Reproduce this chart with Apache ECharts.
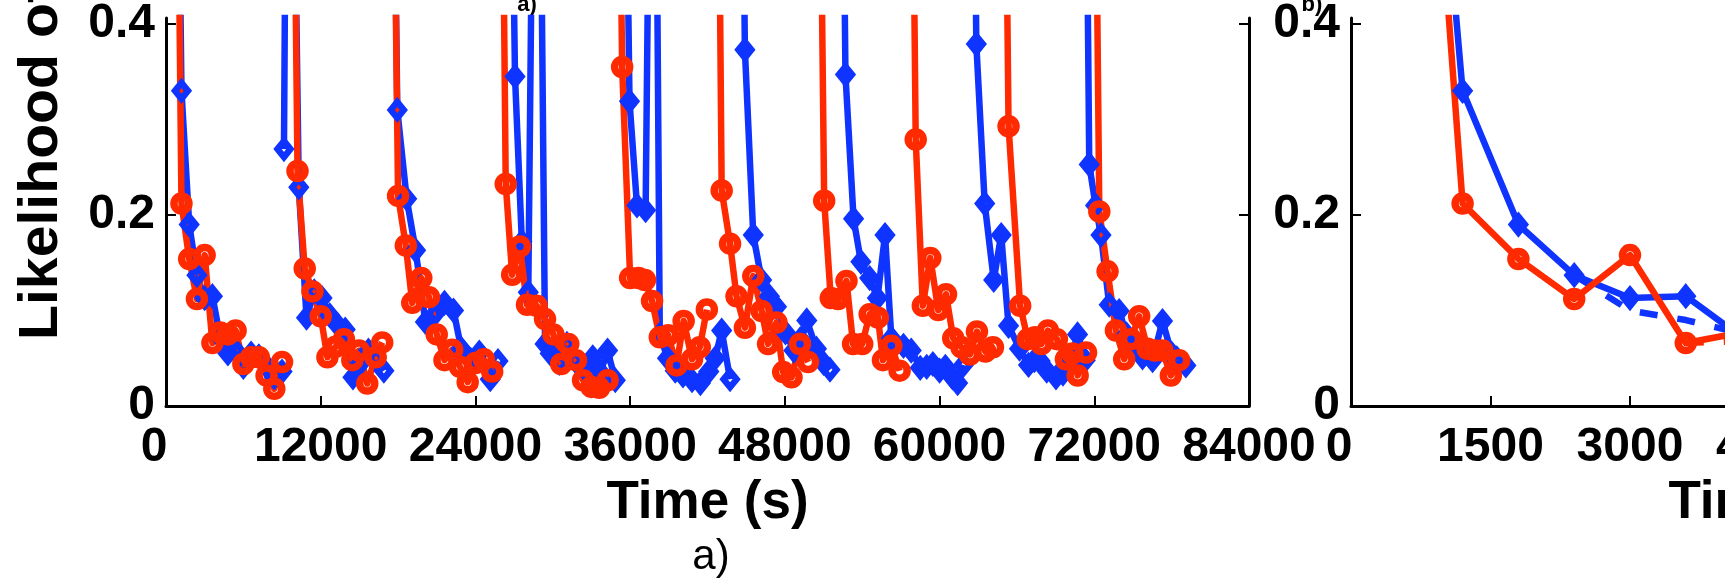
<!DOCTYPE html>
<html>
<head>
<meta charset="utf-8">
<script src="https://cdn.jsdelivr.net/npm/echarts@6/dist/echarts.min.js"></script>
<style>
  html, body { margin: 0; padding: 0; background: #ffffff; overflow: hidden; width: 1735px; height: 582px; }
  #chart { width: 2300px; height: 582px; }
</style>
</head>
<body>
<div id="chart"></div>
<script>
// ---------- data: [time (s), likelihood] ----------
const blueRun1 = [[600,1.0],[1200,0.330],[1800,0.190],[2400,0.137],[3000,0.113],[3600,0.115],[4200,0.072],[4800,0.055],[5400,0.058],[6000,0.041],[6600,0.055],[7200,0.052],[7800,0.042],[8400,0.030],[9000,0.036]];
const blueRun2 = [[9150,0.269],[9500,1.0],[10300,0.229],[10900,0.0925],[11500,0.120],[12100,0.113],[12700,0.095],[13300,0.085],[13900,0.080],[14500,0.030],[15100,0.045],[15700,0.058],[16300,0.050],[16900,0.037]];
const blueRun3 = [[17300,1.0],[17940,0.310],[18670,0.217],[19360,0.163],[20120,0.088],[20900,0.097],[21600,0.108],[22300,0.100],[22900,0.060],[23650,0.048],[24300,0.056],[25150,0.028],[25750,0.047]];
const blueRun4 = [[26400,1.0],[27070,0.345],[27600,0.172],[28100,0.119],[28750,1.0],[29400,0.065],[29800,0.055],[30500,0.045],[31100,0.065],[31700,0.048],[32400,0.040],[33100,0.051],[33700,0.035],[34250,0.058],[34850,0.027]];
const blueRun5 = [[35300,1.0],[35950,0.319],[36530,0.210],[37200,0.205],[37800,1.0],[38300,0.075],[38900,0.050],[39500,0.037],[40100,0.032],[40800,0.027],[41450,0.024],[42100,0.036],[42600,0.050],[43100,0.079],[43750,0.028]];
const blueRun6 = [[44400,1.0],[44900,0.373],[45550,0.179],[46200,0.132],[46800,0.115],[47350,0.104],[48050,0.077],[48700,0.058],[49200,0.070],[49700,0.0896],[50450,0.060],[51000,0.045],[51500,0.038]];
const blueRun7 = [[52200,1.0],[52700,0.347],[53330,0.196],[53900,0.151],[54580,0.134],[55180,0.113],[55770,0.179],[56260,0.071],[57200,0.063],[57800,0.058],[58500,0.040],[59000,0.041],[59480,0.044],[60000,0.037],[60450,0.041],[61000,0.030],[61400,0.024],[61850,0.043]];
const blueRun8 = [[62400,1.0],[62850,0.379],[63500,0.212],[64200,0.132],[64780,0.179],[65350,0.084],[66200,0.060],[66900,0.043],[67350,0.048],[67800,0.047],[68310,0.037],[69030,0.030],[69570,0.034],[70200,0.048],[70700,0.075],[71300,0.048]];
const blueRun9 = [[71100,1.0],[71610,0.253],[72100,0.210],[72520,0.179],[73160,0.106],[73930,0.0995],[74500,0.075],[75100,0.060],[75740,0.051],[76520,0.048],[77290,0.089],[78000,0.055],[78400,0.050],[79100,0.0425]];

const redRun1 = [[600,1.0],[1200,0.212],[1800,0.154],[2400,0.112],[3000,0.158],[3600,0.066],[4200,0.077],[4800,0.075],[5400,0.079],[6000,0.044],[6600,0.051],[7200,0.051],[7800,0.032],[8400,0.018],[9000,0.046]];
const redRun2 = [[9600,1.0],[10200,0.246],[10760,0.144],[11360,0.120],[12000,0.094],[12520,0.051],[13150,0.062],[13800,0.070],[14450,0.048],[14970,0.058],[15610,0.0235],[16260,0.051],[16770,0.0666]];
const redRun3 = [[17300,1.0],[18000,0.220],[18600,0.168],[19100,0.108],[19800,0.134],[20400,0.114],[21000,0.075],[21600,0.048],[22200,0.059],[22800,0.041],[23400,0.025],[24000,0.045],[24650,0.049],[25300,0.036]];
const redRun4 = [[25800,1.0],[26350,0.2325],[26850,0.1375],[27450,0.167],[28000,0.106],[28750,0.105],[29400,0.091],[30050,0.075],[30650,0.044],[31200,0.065],[31800,0.048],[32350,0.027],[33000,0.020],[33600,0.019],[34250,0.027]];
const redRun5 = [[34800,1.0],[35380,0.355],[36000,0.134],[36650,0.134],[37150,0.132],[37700,0.110],[38300,0.072],[38950,0.074],[39600,0.0425],[40150,0.089],[40800,0.049],[41400,0.0615],[41950,0.101]];
const redRun6 = [[42600,1.0],[43100,0.2256],[43750,0.170],[44250,0.115],[44900,0.082],[45550,0.136],[46200,0.0995],[46700,0.065],[47350,0.0875],[47870,0.0355],[48520,0.030],[49170,0.065],[49800,0.046]];
const redRun7 = [[50400,1.0],[51050,0.215],[51560,0.113],[52130,0.112],[52780,0.131],[53290,0.065],[54000,0.065],[54580,0.096],[55220,0.0925],[55610,0.048],[56260,0.063],[56900,0.037]];
const redRun8 = [[57600,1.0],[58150,0.279],[58700,0.105],[59280,0.155],[59900,0.1005],[60500,0.117],[61060,0.071],[61700,0.0615],[62350,0.054],[62900,0.078],[63550,0.057],[64140,0.0615]];
const redRun9 = [[64800,1.0],[65350,0.293],[66250,0.105],[66840,0.070],[67400,0.072],[67900,0.065],[68400,0.079],[69100,0.070],[69800,0.049],[70300,0.055],[70710,0.032],[71360,0.056]];
const redRun10 = [[71800,1.0],[72390,0.2036],[73030,0.141],[73680,0.079],[74320,0.049],[74850,0.070],[75480,0.094],[76130,0.060],[76700,0.058],[77290,0.058],[77940,0.032],[78580,0.048]];

// dashed companions visible only in the zoomed panel b)
const blueDashB = [[2400,0.137],[3000,0.100],[3600,0.090],[4200,0.076]];
const redDashB = [[3600,0.066],[4200,0.068]];

const blueRuns = [blueRun1, blueRun2, blueRun3, blueRun4, blueRun5, blueRun6, blueRun7, blueRun8, blueRun9];
const redRuns = [redRun1, redRun2, redRun3, redRun4, redRun5, redRun6, redRun7, redRun8, redRun9, redRun10];

const yTickValues = [0, 0.2, 0.4];
const leftXTicks = [0, 12000, 24000, 36000, 48000, 60000, 72000, 84000];
const rightXTicks = [0, 1500, 3000, 4500, 6000, 7500, 9000];

const yAxisTitle = 'Likelihood of detection';
const xAxisTitle = 'Time (s)';

// ---------- styles ----------
const FONT = "'Liberation Sans', Arial, Helvetica, sans-serif";
const BLUE = '#0f34ff';
const RED = '#ff2a00';
const YMAX = 0.4062;

function blueSeries(data, xi, yi) {
  return {
    type: 'line', xAxisIndex: xi, yAxisIndex: yi, data: data,
    showAllSymbol: true, symbol: 'diamond', symbolSize: [13, 16],
    lineStyle: { color: BLUE, width: 6.5, join: 'round' },
    itemStyle: { color: 'rgba(0,0,0,0)', borderColor: BLUE, borderWidth: 6.5, borderJoin: 'miter', borderMiterLimit: 10 },
    emphasis: { disabled: true }, silent: true, animation: false
  };
}
function redSeries(data, xi, yi) {
  return {
    type: 'line', xAxisIndex: xi, yAxisIndex: yi, data: data,
    showAllSymbol: true, symbol: 'circle', symbolSize: 15,
    lineStyle: { color: RED, width: 6.5, join: 'round' },
    itemStyle: { color: 'rgba(0,0,0,0)', borderColor: RED, borderWidth: 7.5 },
    emphasis: { disabled: true }, silent: true, animation: false
  };
}
function dashSeries(data, color, xi, yi) {
  return {
    type: 'line', xAxisIndex: xi, yAxisIndex: yi, data: data,
    symbol: 'none',
    lineStyle: { color: color, width: 6.5, type: [18, 20] },
    emphasis: { disabled: true }, silent: true, animation: false
  };
}

const axisLineStyle = { lineStyle: { color: '#000', width: 3 } };
const tickStyle = { inside: true, length: 10, lineStyle: { color: '#000', width: 2 } };
const labelFont = { fontFamily: FONT, fontWeight: 'bold', fontSize: 48, color: '#000' };

function xFormatter(v) { return v === 0 ? '{z|0}' : String(v); }

function makeXAxis(gridIndex, max, interval, ticks) {
  return {
    type: 'value', gridIndex: gridIndex, min: 0, max: max, interval: interval,
    axisLine: axisLineStyle,
    axisTick: Object.assign({ customValues: ticks }, tickStyle),
    axisLabel: Object.assign({ margin: 18, customValues: ticks, formatter: xFormatter,
      rich: { z: { fontFamily: FONT, fontWeight: 'bold', fontSize: 48, color: '#000', padding: [0, 24, 0, 0] } } }, labelFont),
    splitLine: { show: false },
    name: xAxisTitle,
    nameLocation: 'middle', nameGap: 67,
    nameTextStyle: { fontFamily: FONT, fontWeight: 'bold', fontSize: 53, color: '#000' }
  };
}
function makeYAxis(gridIndex, position, showLabels) {
  return {
    type: 'value', gridIndex: gridIndex, position: position, min: 0, max: YMAX,
    axisLine: { show: true, onZero: false, lineStyle: { color: '#000', width: 3 } },
    axisTick: Object.assign({ customValues: [0.2, 0.4] }, tickStyle),
    axisLabel: Object.assign({ show: showLabels, margin: 11, customValues: yTickValues,
      formatter: function (v) { return String(v); } }, labelFont),
    splitLine: { show: false }
  };
}

const series = [];
blueRuns.forEach(function (r) { series.push(blueSeries(r, 0, 0)); });
redRuns.forEach(function (r) { series.push(redSeries(r, 0, 0)); });
series.push(dashSeries(blueDashB, BLUE, 1, 2));
series.push(blueSeries(blueRun1, 1, 2));
series.push(dashSeries(redDashB, RED, 1, 2));
series.push(redSeries(redRun1, 1, 2));

const option = {
  backgroundColor: '#ffffff',
  animation: false,
  grid: [
    { left: 166, top: 14, width: 1083, height: 392, containLabel: false },
    { left: 1351, top: 14, width: 837, height: 392, containLabel: false }
  ],
  xAxis: [
    makeXAxis(0, 84000, 12000, leftXTicks),
    makeXAxis(1, 9000, 1500, rightXTicks)
  ],
  yAxis: [
    makeYAxis(0, 'left', true),
    makeYAxis(0, 'right', false),
    makeYAxis(1, 'left', true)
  ],
  series: series,
  graphic: [
    { type: 'text', x: 42, y: 340, rotation: Math.PI / 2, scaleX: 1.04, silent: true,
      style: { text: yAxisTitle, fontFamily: FONT, fontWeight: 'bold', fontSize: 55, fill: '#000', align: 'left', verticalAlign: 'middle' } },
    { type: 'text', x: 711, y: 557, silent: true,
      style: { text: 'a)', fontFamily: FONT, fontSize: 42, fill: '#000', align: 'center', verticalAlign: 'middle' } },
    { type: 'text', x: 527, y: 5, silent: true,
      style: { text: 'a)', fontFamily: FONT, fontWeight: 'bold', fontSize: 22, fill: '#000', align: 'center', verticalAlign: 'middle' } },
    { type: 'text', x: 1312, y: 5, silent: true,
      style: { text: 'b)', fontFamily: FONT, fontWeight: 'bold', fontSize: 22, fill: '#000', align: 'center', verticalAlign: 'middle' } },
    { type: 'rect', z: 1000, silent: true, shape: { x: 1725, y: 0, width: 600, height: 582 }, style: { fill: '#ffffff' } }
  ]
};

const chart = echarts.init(document.getElementById('chart'), null, { renderer: 'canvas' });
chart.setOption(option);
</script>
</body>
</html>
